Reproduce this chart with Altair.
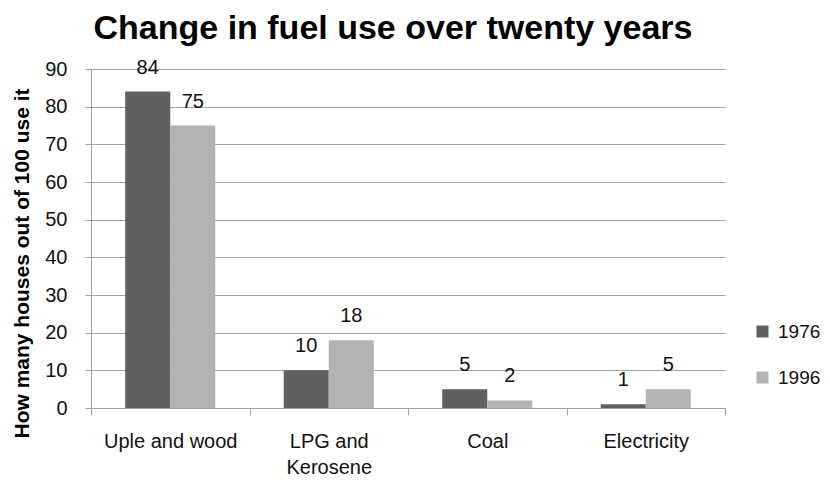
import altair as alt
import pandas as pd

categories = ["Uple and wood", "LPG and Kerosene", "Coal", "Electricity"]
years = ["1976", "1996"]
values_1976 = [84, 10, 5, 1]
values_1996 = [75, 18, 2, 5]
y_ticks = [0, 10, 20, 30, 40, 50, 60, 70, 80, 90]

rows = []
for c, a, b in zip(categories, values_1976, values_1996):
    rows.append({"fuel": c, "year": years[0], "houses": a})
    rows.append({"fuel": c, "year": years[1], "houses": b})
df = pd.DataFrame(rows)

FONT = "Liberation Sans, sans-serif"
LABEL_FONT = "Liberation Sans, sans-serif"
GRID = "#a3a3a3"

base = alt.Chart(df).encode(
    x=alt.X(
        "fuel:N",
        sort=categories,
        title=None,
        scale=alt.Scale(paddingInner=0, paddingOuter=0),
        axis=alt.Axis(
            labelAngle=0,
            labelFont=LABEL_FONT,
            labelFontSize=20,
            labelColor="#111111",
            labelPadding=16,
            labelLineHeight=26,
            labelExpr="datum.value == 'LPG and Kerosene' ? ['LPG and', 'Kerosene'] : datum.value",
            tickBand="extent",
            tickSize=7,
            tickColor=GRID,
            domainColor=GRID,
            grid=False,
        ),
    ),
    xOffset=alt.XOffset(
        "year:N", sort=years, scale=alt.Scale(paddingInner=0, paddingOuter=0.76)
    ),
    y=alt.Y(
        "houses:Q",
        scale=alt.Scale(domain=[0, 90], nice=False),
        axis=alt.Axis(
            values=y_ticks,
            labelOverlap=False,
            title="How many houses out of 100 use it",
            titleFont=FONT,
            titleFontSize=21,
            titleFontWeight="bold",
            titleColor="black",
            titleX=-69,
            titleY=194,
            titleAngle=-90,
            titleAlign="center",
            titleBaseline="middle",
            labelFont=LABEL_FONT,
            labelFontSize=20,
            labelColor="#111111",
            labelPadding=18,
            tickSize=6,
            tickColor=GRID,
            gridColor=GRID,
            domainColor=GRID,
        ),
    ),
)

bars = base.mark_bar().encode(
    color=alt.Color(
        "year:N",
        sort=years,
        scale=alt.Scale(domain=years, range=["#616161", "#b3b3b3"]),
        legend=alt.Legend(
            title=None,
            orient="none",
            legendX=662,
            legendY=253,
            symbolType="square",
            symbolSize=144,
            symbolStrokeWidth=0,
            labelFont=LABEL_FONT,
            labelFontSize=19,
            labelColor="#111111",
            labelOffset=6,
            rowPadding=26,
        ),
    ),
)

text = base.mark_text(
    baseline="alphabetic", dy=-18, font=LABEL_FONT, fontSize=20, color="#111111"
).encode(
    text=alt.Text("houses:Q"),
)

chart = (
    alt.layer(bars, text)
    .properties(
        width=634,
        height=339,
        title=alt.Title(
            "Change in fuel use over twenty years",
            font=FONT,
            fontSize=34,
            fontWeight="bold",
            color="black",
            anchor="middle",
            dx=-15,
            offset=12,
        ),
        autosize=alt.AutoSizeParams(type="none"),
        padding={"left": 83, "top": 61, "right": 97, "bottom": 72},
    )
    .configure_view(stroke=None)
)

chart.save("out.html", embed_options={"renderer": "svg", "actions": False})
